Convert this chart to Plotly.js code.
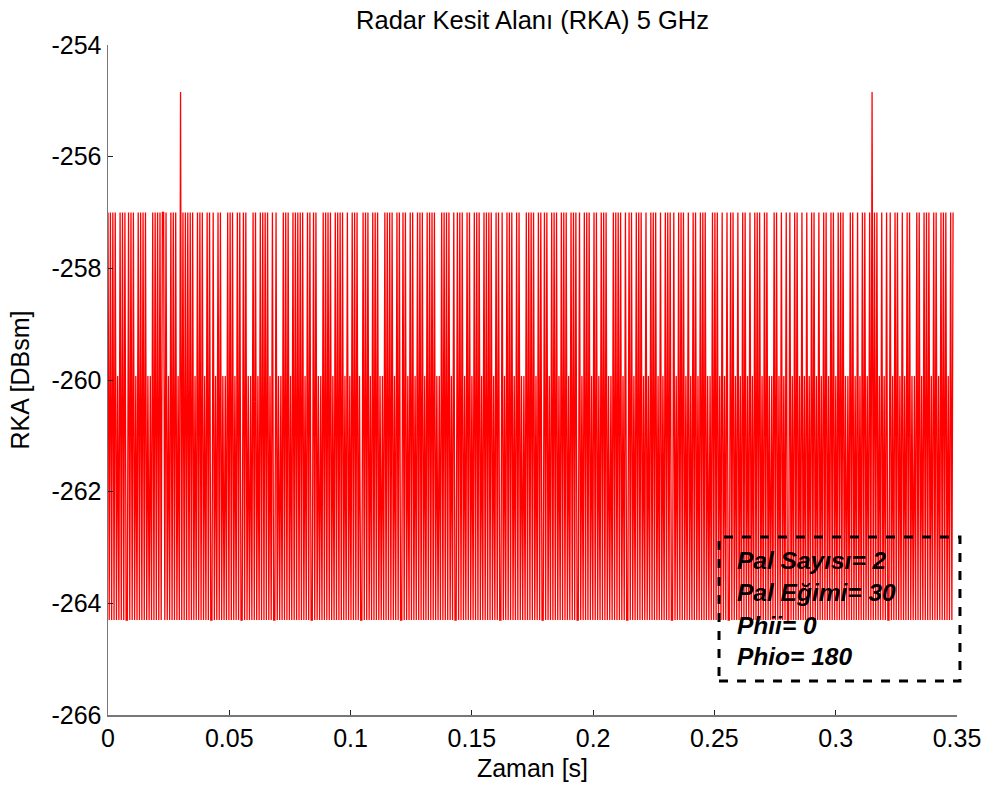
<!DOCTYPE html>
<html>
<head>
<meta charset="utf-8">
<script src="https://cdn.plot.ly/plotly-3.0.1.min.js"></script>
<style>html,body{margin:0;padding:0;background:#fff;}#chart{width:990px;height:791px;}</style>
</head>
<body>
<div id="chart"></div>
<script>
// RCS levels seen in the trace (dBsm)
const levelValues = [-257.0, -259.93, -264.3, -254.84];
const levelCode = [
0,2,0,2,0,2,0,2,1,2,0,2,0,2,0,2,2,0,2,0,
2,0,2,1,2,0,2,0,2,0,2,0,2,1,2,1,2,0,2,0,
2,0,2,0,2,0,0,2,0,2,1,2,0,2,0,2,0,2,1,2,
3,2,0,2,0,2,0,2,0,2,0,2,1,2,0,2,0,2,0,2,
1,2,0,2,0,2,2,0,2,1,2,0,2,0,2,1,2,1,2,0,
2,0,2,0,2,1,2,0,2,0,2,2,0,2,0,2,1,2,1,2,
0,2,0,2,1,2,0,2,0,2,0,2,0,2,1,2,0,2,2,0,
2,1,2,1,2,0,2,0,2,0,2,1,2,0,2,0,2,0,2,0,
2,0,2,1,2,0,2,0,2,2,0,2,0,2,1,2,1,2,0,2,
0,2,0,2,0,2,1,2,0,2,0,2,0,2,0,2,1,2,0,2,
1,2,0,2,0,2,0,2,1,2,2,0,2,0,2,0,2,1,2,0,
2,0,2,0,2,1,2,1,2,0,2,0,2,0,2,0,2,1,2,0,
2,0,2,2,0,2,0,2,1,2,0,2,0,2,1,2,0,2,0,2,
0,2,1,2,0,2,0,2,0,2,0,2,1,2,1,2,0,2,0,2,
0,2,0,2,1,2,0,2,2,0,2,0,2,0,2,1,2,0,2,0,
2,1,2,0,2,0,2,0,2,1,2,0,2,0,2,0,2,0,2,1,
2,0,2,0,2,2,0,2,1,2,0,2,0,2,0,2,1,2,0,2,
0,2,1,2,1,2,0,2,0,2,0,2,0,2,1,2,0,2,0,2,
2,0,2,0,2,1,2,0,2,0,2,0,2,1,2,0,2,0,2,0,
2,1,2,0,2,0,2,0,2,2,0,2,1,2,0,2,0,2,0,2,
1,2,0,2,0,2,1,2,0,2,0,2,0,2,1,2,1,2,0,2,
0,2,0,2,0,2,1,2,0,2,2,0,2,0,2,1,2,0,2,0,
2,0,2,1,2,0,2,1,2,0,2,0,2,0,2,1,2,0,2,1,
2,0,2,0,2,0,2,2,0,2,1,2,0,2,0,2,0,2,1,2,
0,2,1,2,0,2,0,2,1,2,0,2,0,2,0,2,1,2,1,2,
0,2,0,2,0,2,1,2,0,2,1,2,0,2,2,0,2,0,2,1,
2,0,2,1,2,0,2,0,2,1,2,0,2,1,2,0,2,0,2,0,
2,1,2,0,2,0,2,1,2,1,2,0,2,0,2,1,2,0,2,1,
2,0,2,2,0,2,1,2,0,2,0,2,1,2,0,2,1,2,0,2,
1,2,0,2,0,2,1,2,0,2,1,2,0,2,0,2,1,2,0,2,
0,2,1,2,0,2,0,2,0,2,1,2,1,2,0,2,0,2,1,2,
0,2,1,2,0,2,0,2,1,2,0,2,3,2,0,2,0,2,1,2,
0,2,1,2,0,2,2,0,2,1,2,0,2,0,2,1,2,0,2,1,
2,0,2,0,2,1,2,1,2,0,2,0,2,1,2,0,2,0,2,0,
2,1,2,0,2,0,2,1,2,0,2,0,2,0,2,1,2,0,2,0
];
const samplePeriod = 0.0004984; // s
const xTickVals = [0, 0.05, 0.1, 0.15, 0.2, 0.25, 0.3, 0.35];
const xTickText = ["0", "0.05", "0.1", "0.15", "0.2", "0.25", "0.3", "0.35"];
const yTickVals = [-266, -264, -262, -260, -258, -256, -254];
const yTickText = ["-266", "-264", "-262", "-260", "-258", "-256", "-254"];
const infoLines = ["Pal Sayısı= 2", "Pal Eğimi= 30", "Phii= 0", "Phio= 180"];

const timeValues = levelCode.map((c, i) => i * samplePeriod);
const rcsValues = levelCode.map(c => levelValues[c]);

const font = "Liberation Sans, Arial, sans-serif";

const trace = {
  x: timeValues, y: rcsValues, type: "scatter", mode: "lines",
  line: {color: "#ff0000", width: 1.3}, hoverinfo: "skip"
};

const annYs = [0.2299, 0.1821, 0.1343, 0.0866];
const annotations = infoLines.map((t, i) => ({
  xref: "paper", yref: "paper", x: 0.738, y: annYs[i],
  xanchor: "left", yanchor: "middle", showarrow: false,
  text: "<b><i>" + t + "</i></b>",
  font: {family: font, size: 24.5, color: "#000"}
}));

const layout = {
  width: 990, height: 791,
  margin: {l: 108, r: 33, t: 45, b: 76},
  paper_bgcolor: "#fff", plot_bgcolor: "#fff",
  showlegend: false,
  font: {family: font, size: 25, color: "#000"},
  title: {text: "Radar Kesit Alanı (RKA) 5 GHz", x: 0.5, xref: "paper", y: 0.975, yanchor: "middle",
          font: {family: font, size: 25.5, color: "#000"}},
  xaxis: {
    range: [0, 0.35], tickvals: xTickVals, ticktext: xTickText,
    ticks: "inside", ticklen: 5, tickcolor: "#222", tickwidth: 1,
    showline: true, linecolor: "#777", linewidth: 1.5, mirror: false,
    showgrid: false, zeroline: false,
    tickfont: {family: font, size: 25, color: "#000"},
    title: {text: "Zaman [s]", font: {family: font, size: 25, color: "#000"}, standoff: 9}
  },
  yaxis: {
    range: [-266, -254], tickvals: yTickVals, ticktext: yTickText,
    ticks: "inside", ticklen: 5, tickcolor: "#222", tickwidth: 1,
    showline: true, linecolor: "#777", linewidth: 1.5, mirror: false,
    showgrid: false, zeroline: false,
    tickfont: {family: font, size: 25, color: "#000"},
    title: {text: "RKA [DBsm]", font: {family: font, size: 25, color: "#000"}, standoff: 14}
  },
  shapes: [{
    type: "rect", xref: "paper", yref: "paper",
    x0: 0.7197, x1: 1.0035, y0: 0.0507, y1: 0.2657,
    line: {color: "#000", width: 3, dash: "dash"}, fillcolor: "rgba(0,0,0,0)"
  }],
  annotations: annotations
};

Plotly.newPlot("chart", [trace], layout, {displayModeBar: false, staticPlot: true});
</script>
</body>
</html>
